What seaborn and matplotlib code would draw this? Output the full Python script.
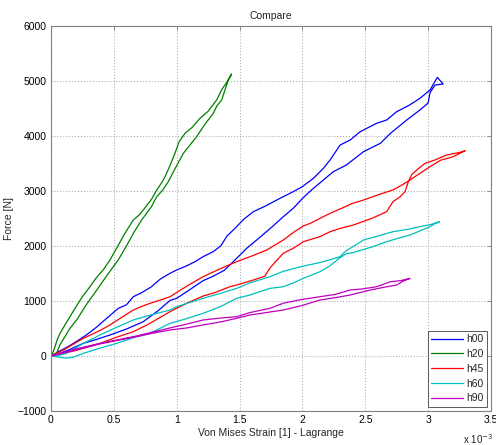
import pandas as pd
import matplotlib
matplotlib.use('Agg')
import matplotlib.pyplot as plt
import seaborn as sns

# Strain values are given in units of 1e-3 (axis shows "x 10^-3")
series_names = ['h00', 'h20', 'h45', 'h60', 'h90']
series_colors = ['#0000ff', '#008000', '#ff0000', '#00bfbf', '#bf00bf']

h00_strain = [0, 0.06, 0.135, 0.2, 0.28, 0.36, 0.45, 0.536, 0.6, 0.655, 0.72, 0.8, 0.87, 0.947, 1.0, 1.08,
              1.15, 1.21, 1.29, 1.35, 1.40, 1.477, 1.53, 1.61, 1.70, 1.822, 1.927, 2.0, 2.087, 2.167,
              2.22, 2.30, 2.38, 2.46, 2.59, 2.67, 2.75, 2.85, 2.935, 3.015, 3.073,
              3.12, 3.055, 3.015, 3.0, 2.935, 2.83, 2.70, 2.62, 2.486, 2.35, 2.246, 2.167, 2.087,
              2.007, 1.927, 1.848, 1.75, 1.636, 1.557, 1.477, 1.38, 1.29, 1.21, 1.1, 1.0, 0.947, 0.85,
              0.734, 0.6, 0.469, 0.36, 0.257, 0.15, 0.05, 0]
h00_force = [0, 80, 169, 260, 380, 520, 700, 867, 930, 1078, 1150, 1260, 1400, 1503, 1564, 1640,
             1720, 1806, 1897, 2000, 2180, 2351, 2480, 2624, 2720, 2867, 2988, 3080, 3230, 3412,
             3564, 3836, 3927, 4079, 4230, 4291, 4442, 4560, 4685, 4836, 5066,
             4945, 4927, 4788, 4600, 4473, 4291, 4048, 3867, 3715, 3473, 3351, 3200, 3048,
             2880, 2685, 2533, 2330, 2109, 1958, 1776, 1560, 1450, 1370, 1200, 1049, 1010, 820,
             624, 490, 382, 300, 230, 120, 30, 0]

h20_strain = [0, 0.02, 0.032, 0.05, 0.072, 0.11, 0.151, 0.2, 0.25, 0.31, 0.36, 0.42, 0.469, 0.52, 0.58,
              0.655, 0.70, 0.734, 0.80, 0.841, 0.88, 0.907, 0.95, 0.986, 1.02, 1.066, 1.12, 1.185, 1.25,
              1.318, 1.36, 1.40, 1.437,
              1.41, 1.358, 1.32, 1.291, 1.22, 1.159, 1.10, 1.053, 0.99, 0.933, 0.89, 0.841, 0.80, 0.761,
              0.721, 0.66, 0.60, 0.535, 0.45, 0.364, 0.28, 0.204, 0.15, 0.111, 0.07, 0.045, 0]
h20_force = [0, 90, 170, 300, 412, 560, 715, 900, 1080, 1260, 1420, 1580, 1745, 1950, 2200,
             2473, 2560, 2655, 2850, 3018, 3150, 3260, 3480, 3685, 3900, 4048, 4150, 4321, 4450,
             4655, 4850, 4980, 5127,
             5018, 4655, 4550, 4412, 4200, 3988, 3820, 3685, 3420, 3169, 3020, 2896, 2720, 2594,
             2473, 2250, 2000, 1745, 1480, 1200, 930, 655, 500, 351, 200, 49, 0]

h45_strain = [0, 0.1, 0.257, 0.398, 0.469, 0.56, 0.655, 0.72, 0.788, 0.86, 0.947, 1.08, 1.21, 1.34, 1.477,
              1.6, 1.716, 1.848, 1.93, 2.007, 2.07, 2.14, 2.22, 2.326, 2.40, 2.486, 2.60, 2.72, 2.80,
              2.856, 2.94, 3.015, 3.10, 3.20, 3.294,
              3.25, 3.147, 3.05, 2.975, 2.91, 2.87, 2.843, 2.816, 2.78, 2.72, 2.67, 2.55, 2.405, 2.30,
              2.22, 2.14, 2.007, 1.928, 1.848, 1.78, 1.742, 1.70, 1.61, 1.477, 1.424, 1.30, 1.21, 1.08,
              0.947, 0.867, 0.76, 0.655, 0.52, 0.39, 0.2, 0]
h45_force = [0, 110, 321, 473, 564, 700, 836, 900, 958, 1010, 1078, 1270, 1442, 1580, 1715,
             1820, 1927, 2109, 2250, 2363, 2420, 2503, 2594, 2700, 2776, 2836, 2930, 3018, 3120,
             3200, 3330, 3442, 3560, 3624, 3733,
             3700, 3655, 3560, 3503, 3382, 3300, 3169, 2988, 2900, 2805, 2624, 2500, 2382, 2320,
             2260, 2170, 2078, 1960, 1867, 1700, 1600, 1450, 1382, 1291, 1260, 1150, 1090, 960,
             806, 700, 560, 442, 340, 230, 100, 0]

h60_strain = [0, 0.06, 0.125, 0.25, 0.39, 0.52, 0.655, 0.80, 0.947, 1.0, 1.1, 1.21, 1.35, 1.477, 1.583,
              1.742, 1.848, 2.0, 2.14, 2.22, 2.30, 2.34, 2.38, 2.486, 2.60, 2.72, 2.83, 2.935, 3.02, 3.09,
              3.05, 3.015, 2.93, 2.856, 2.76, 2.67, 2.55, 2.405, 2.35, 2.30, 2.22, 2.14, 2.007, 1.93,
              1.848, 1.742, 1.583, 1.477, 1.35, 1.21, 1.08, 0.947, 0.788, 0.65, 0.523, 0.40, 0.257,
              0.18, 0.12, 0.06, 0]
h60_force = [0, 10, 49, 220, 382, 520, 655, 750, 836, 897, 970, 1049, 1140, 1230, 1330,
             1442, 1540, 1630, 1700, 1750, 1806, 1900, 1958, 2109, 2180, 2260, 2300, 2351, 2390, 2442,
             2400, 2351, 2270, 2200, 2140, 2078, 1980, 1880, 1860, 1790, 1640, 1533, 1412, 1330,
             1260, 1230, 1109, 1049, 900, 776, 680, 594, 412, 330, 230, 150, 49,
             -20, -40, -20, 0]

h90_strain = [0, 0.2, 0.39, 0.52, 0.655, 0.8, 0.947, 1.08, 1.21, 1.35, 1.477, 1.583, 1.742, 1.848, 2.0,
              2.14, 2.26, 2.38, 2.48, 2.59, 2.64, 2.70, 2.78, 2.856,
              2.80, 2.75, 2.65, 2.54, 2.38, 2.26, 2.14, 2.0, 1.848, 1.742, 1.583, 1.477, 1.35, 1.21,
              1.08, 0.947, 0.8, 0.655, 0.52, 0.39, 0.2, 0]
h90_force = [0, 130, 230, 290, 351, 430, 510, 580, 655, 690, 715, 790, 867, 960, 1030,
             1078, 1120, 1200, 1220, 1260, 1300, 1351, 1370, 1412,
             1360, 1291, 1250, 1200, 1109, 1060, 1018, 920, 836, 800, 745, 685, 620, 564,
             510, 473, 410, 340, 280, 220, 110, 0]

x_ticks = [0, 0.5, 1, 1.5, 2, 2.5, 3, 3.5]
x_tick_labels = ['0', '0.5', '1', '1.5', '2', '2.5', '3', '3.5']
y_ticks = [-1000, 0, 1000, 2000, 3000, 4000, 5000, 6000]

# Build one long table, keeping the point order so the loops close
all_strain = [h00_strain, h20_strain, h45_strain, h60_strain, h90_strain]
all_force = [h00_force, h20_force, h45_force, h60_force, h90_force]
frames = []
for name, xs, ys in zip(series_names, all_strain, all_force):
    frames.append(pd.DataFrame({'strain': xs, 'force': ys, 'series': name}))
df = pd.concat(frames, ignore_index=True)

sns.set_style('white')
plt.rcParams['font.family'] = ['Liberation Sans', 'DejaVu Sans']
plt.rcParams['font.size'] = 7.5

fig = plt.figure(figsize=(4.96, 4.45), dpi=100)
ax = fig.add_axes([0.1028, 0.0764, 0.8871, 0.8652])

sns.lineplot(data=df, x='strain', y='force', hue='series', hue_order=series_names,
             palette=series_colors, sort=False, estimator=None, linewidth=0.9, ax=ax)

ax.set_xlim(0, 3.5)
ax.set_ylim(-1000, 6000)
ax.set_xticks(x_ticks)
ax.set_xticklabels(x_tick_labels)
ax.set_yticks(y_ticks)
ax.grid(True, linestyle=':', color='#b0b0b0', linewidth=0.8)
ax.tick_params(direction='in', length=3, width=0.6, colors='#808080', labelcolor='black',
               labelsize=7.5, top=True, right=True, pad=3)
for sp in ax.spines.values():
    sp.set_color('#808080')
    sp.set_linewidth(0.8)

ax.set_title('Compare', fontsize=7.5, pad=5)
ax.set_xlabel('Von Mises Strain [1] - Lagrange', fontsize=7.5, labelpad=2)
ax.set_ylabel('Force [N]', fontsize=7.5, labelpad=3)
ax.text(0.937, -0.055, r'x 10$^{-3}$', transform=ax.transAxes, ha='left', va='top', fontsize=7)

handles, labels = ax.get_legend_handles_labels()
leg = ax.legend(handles, labels, loc='lower right', fontsize=7.5, handlelength=3.0,
                labelspacing=0.45, borderpad=0.35, handletextpad=0.3, borderaxespad=0.4,
                fancybox=False, framealpha=1, edgecolor='#404040')
leg.get_frame().set_linewidth(0.6)

plt.savefig('out.png', dpi=100)
